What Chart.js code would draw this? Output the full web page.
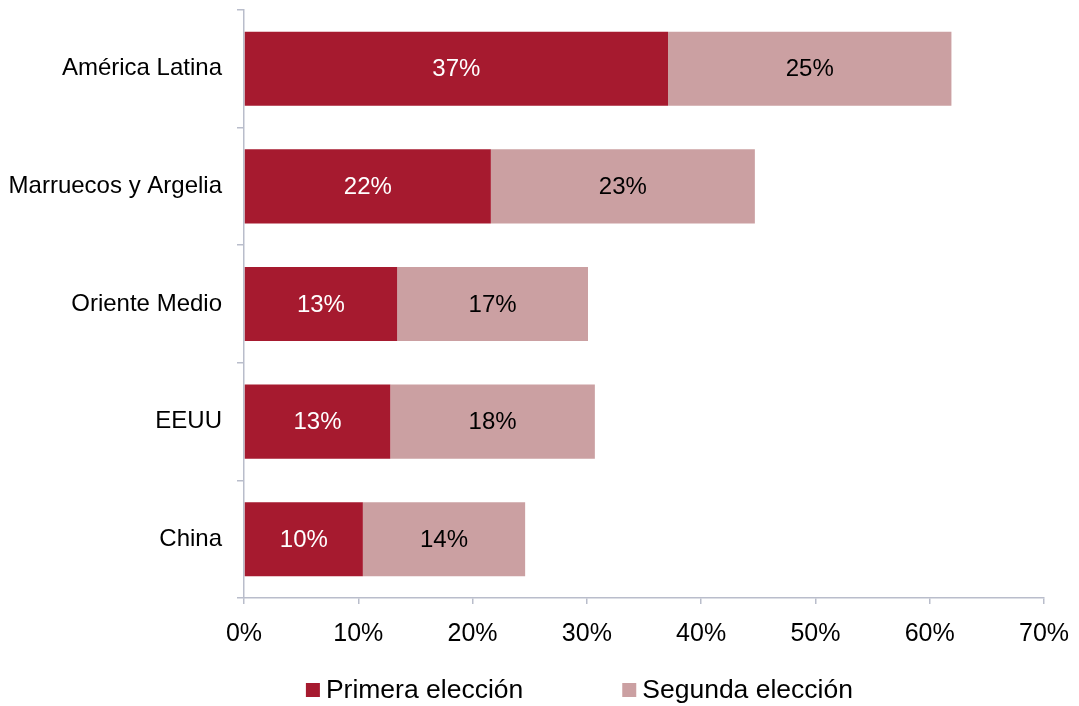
<!DOCTYPE html>
<html>
<head>
<meta charset="utf-8">
<script src="https://cdn.jsdelivr.net/npm/chart.js@4/dist/chart.umd.min.js"></script>
<style>
  html, body { margin: 0; padding: 0; background: #fff; }
  #wrap { width: 1079px; height: 706px; }
</style>
</head>
<body>
<div id="wrap"><canvas id="myChart"></canvas></div>
<script>
// Chart data
var regions = ['América Latina', 'Marruecos y Argelia', 'Oriente Medio', 'EEUU', 'China'];
var firstChoice = [37.1, 21.6, 13.4, 12.8, 10.4];
var secondChoice = [24.8, 23.1, 16.7, 17.9, 14.2];
var seriesNames = ['Primera elección', 'Segunda elección'];
var xTicks = [0, 10, 20, 30, 40, 50, 60, 70];

var axisColor = '#b9bdcb';
var fontFamily = '"Liberation Sans", Arial, Helvetica, sans-serif';

// Draws the value labels in the middle of each bar segment
var barLabels = {
    id: 'barLabels',
    afterDatasetsDraw: function (chart) {
        var ctx = chart.ctx;
        ctx.save();
        ctx.font = '24px ' + fontFamily;
        ctx.textAlign = 'center';
        ctx.textBaseline = 'middle';
        chart.data.datasets.forEach(function (ds, di) {
            var meta = chart.getDatasetMeta(di);
            ctx.fillStyle = di === 0 ? '#ffffff' : '#000000';
            meta.data.forEach(function (bar, i) {
                var p = bar.getProps(['x', 'y', 'base'], true);
                ctx.fillText(Math.round(ds.data[i]) + '%', (p.x + p.base) / 2, p.y + 1);
            });
        });
        ctx.restore();
    }
};

// Legend drawn under the axis with the wide gap of the original
var wideLegend = {
    id: 'wideLegend',
    afterDraw: function (chart) {
        var ctx = chart.ctx;
        var box = 14, gapText = 6, gapItem = 99;
        ctx.save();
        ctx.font = '26.5px ' + fontFamily;
        ctx.textBaseline = 'middle';
        var items = chart.data.datasets.map(function (ds) {
            return { text: ds.label, color: ds.backgroundColor, w: box + gapText + ctx.measureText(ds.label).width };
        });
        var total = items.reduce(function (s, it) { return s + it.w; }, 0) + gapItem * (items.length - 1);
        var x = chart.width * 0.537 - total / 2;
        var y = chart.height - 16;
        items.forEach(function (it) {
            ctx.fillStyle = it.color;
            ctx.fillRect(x, y - box / 2, box, box);
            ctx.fillStyle = '#000000';
            ctx.fillText(it.text, x + box + gapText, y + 1);
            x += it.w + gapItem;
        });
        ctx.restore();
    }
};

var ctx = document.getElementById('myChart').getContext('2d');
var chart = new Chart(ctx, {
    type: 'bar',
    data: {
        labels: regions,
        datasets: [{
            label: seriesNames[0],
            data: firstChoice,
            backgroundColor: '#a61a2f',
            barPercentage: 0.63,
            categoryPercentage: 1
        }, {
            label: seriesNames[1],
            data: secondChoice,
            backgroundColor: '#cba0a2',
            barPercentage: 0.63,
            categoryPercentage: 1
        }]
    },
    options: {
        indexAxis: 'y',
        responsive: true,
        maintainAspectRatio: false,
        animation: false,
        layout: { padding: { top: 10, right: 35, bottom: 42, left: 0 } },
        plugins: {
            legend: { display: false },
            tooltip: { enabled: false }
        },
        scales: {
            x: {
                stacked: true,
                min: 0,
                max: 70,
                afterBuildTicks: function (scale) {
                    scale.ticks = xTicks.map(function (v) { return { value: v }; });
                },
                afterFit: function (scale) {
                    scale.paddingLeft = 0;
                    scale.paddingRight = 0;
                },
                ticks: {
                    padding: 15,
                    color: '#000',
                    font: { family: fontFamily, size: 25 },
                    callback: function (v) { return v + '%'; }
                },
                grid: { drawOnChartArea: false, tickLength: 6, color: axisColor, lineWidth: 1.5 },
                border: { color: axisColor, width: 1.5 }
            },
            y: {
                stacked: true,
                afterFit: function (scale) {
                    scale.width = 244;
                    scale.paddingTop = 0;
                    scale.paddingBottom = 0;
                },
                ticks: {
                    padding: 15,
                    color: '#000',
                    font: { family: fontFamily, size: 24 }
                },
                grid: { drawOnChartArea: false, tickLength: 7, color: axisColor, lineWidth: 1.5 },
                border: { color: axisColor, width: 1.5 }
            }
        }
    },
    plugins: [barLabels, wideLegend]
});
</script>
</body>
</html>
